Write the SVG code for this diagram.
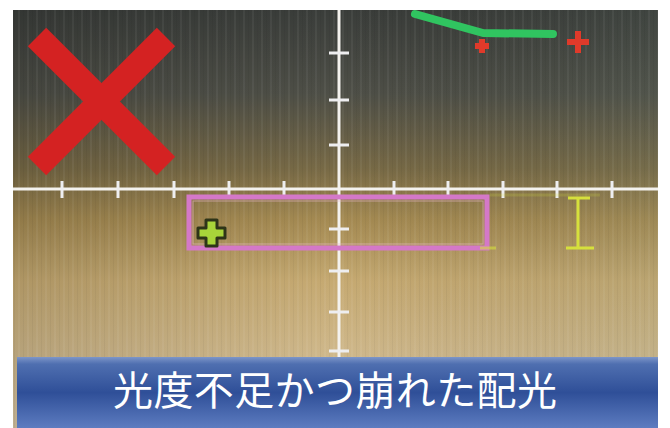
<svg xmlns="http://www.w3.org/2000/svg" width="670" height="428" viewBox="0 0 670 428">
<defs>
<linearGradient id="bg" x1="0" y1="0" x2="0" y2="1">
<stop offset="0" stop-color="#3a3d3a"/>
<stop offset="0.2" stop-color="#4e4f47"/>
<stop offset="0.38" stop-color="#786a46"/>
<stop offset="0.5" stop-color="#a48a52"/>
<stop offset="0.65" stop-color="#c6aa72"/>
<stop offset="1" stop-color="#d8c6a4"/>
</linearGradient>
<linearGradient id="side" x1="0" y1="0" x2="1" y2="0">
<stop offset="0" stop-color="#000" stop-opacity="0.12"/>
<stop offset="0.5" stop-color="#000" stop-opacity="0"/>
<stop offset="1" stop-color="#6a8070" stop-opacity="0.12"/>
</linearGradient>
<linearGradient id="band" x1="0" y1="0" x2="0" y2="1">
<stop offset="0" stop-color="#7d96c8"/>
<stop offset="0.1" stop-color="#4f6fb0"/>
<stop offset="0.5" stop-color="#2f4f98"/>
<stop offset="1" stop-color="#5d7cc0"/>
</linearGradient>
<pattern id="streaks" width="9" height="10" patternUnits="userSpaceOnUse">
<rect x="0" y="0" width="2" height="10" fill="#fff" opacity="0.05"/>
<rect x="5" y="0" width="1" height="10" fill="#000" opacity="0.04"/>
</pattern>
<style>
.axis{stroke:#f4f2ee;stroke-width:3;fill:none}
.tick{stroke:#eeeef0;stroke-width:3;fill:none}
.yel{stroke:#d6e03c;stroke-width:3;fill:none}
.rp{stroke:#e03a2a;stroke-width:6;fill:none}
</style>
</defs>
<rect width="670" height="428" fill="#ffffff"/>
<g id="photo">
<rect x="13" y="10" width="645" height="418" fill="url(#bg)"/>
<rect x="13" y="10" width="645" height="418" fill="url(#side)"/>
<rect x="13" y="10" width="645" height="418" fill="url(#streaks)"/>
</g>
<g id="cross-mark">
<line x1="37" y1="37" x2="166" y2="166" stroke="#d42222" stroke-width="26"/>
<line x1="166" y1="37" x2="37" y2="166" stroke="#d42222" stroke-width="26"/>
</g>
<g id="axes">
<line class="axis" x1="13" y1="189" x2="658" y2="189"/>
<line class="axis" x1="339" y1="10" x2="339" y2="357"/>
<g class="tick">
<line x1="62" y1="181" x2="62" y2="198"/>
<line x1="118" y1="181" x2="118" y2="198"/>
<line x1="174" y1="181" x2="174" y2="198"/>
<line x1="229" y1="181" x2="229" y2="198"/>
<line x1="284" y1="181" x2="284" y2="198"/>
<line x1="394" y1="181" x2="394" y2="198"/>
<line x1="448" y1="181" x2="448" y2="198"/>
<line x1="503" y1="181" x2="503" y2="198"/>
<line x1="557" y1="181" x2="557" y2="198"/>
<line x1="612" y1="181" x2="612" y2="198"/>
<line x1="329" y1="53" x2="349" y2="53"/>
<line x1="329" y1="100" x2="349" y2="100"/>
<line x1="329" y1="145" x2="349" y2="145"/>
<line x1="329" y1="229" x2="349" y2="229"/>
<line x1="329" y1="271" x2="349" y2="271"/>
<line x1="329" y1="312" x2="349" y2="312"/>
<line x1="329" y1="351" x2="349" y2="351"/>
</g>
</g>
<g id="target-box">
<rect x="189" y="197" width="298" height="51" fill="none" stroke="#d478c8" stroke-width="5"/>
<rect x="193" y="201" width="290" height="43" fill="none" stroke="#e8b8c8" stroke-width="1" opacity="0.6"/>
</g>
<g id="green-plus">
<path d="M206,220 h11 v8 h8 v10 h-8 v8 h-11 v-8 h-8 v-10 h8 z" fill="#a8d43a" stroke="#2e3418" stroke-width="3" stroke-linejoin="round"/>
</g>
<g id="yellow-marker">
<line class="yel" x1="578" y1="198" x2="578" y2="248"/>
<line class="yel" x1="568" y1="198" x2="590" y2="198"/>
<line class="yel" x1="566" y1="248" x2="594" y2="248"/>
<line class="yel" x1="480" y1="248" x2="496" y2="248" opacity="0.6"/>
<line class="yel" x1="490" y1="195" x2="600" y2="195" opacity="0.2"/>
</g>
<g id="green-line">
<polyline points="415,14 483,33 553,34" fill="none" stroke="#30c460" stroke-width="8" stroke-linecap="round" stroke-linejoin="round"/>
</g>
<g id="red-plus-marks">
<path class="rp" d="M475,46 h14 M482,39 v14"/>
<path class="rp" d="M567,42 h22 M578,31 v22" stroke-width="7"/>
</g>
<g id="caption">
<rect x="17" y="357" width="641" height="71" fill="url(#band)"/>
<text x="335" y="405" font-family="'Noto Sans CJK JP', 'Noto Sans CJK SC', sans-serif" font-size="40" fill="#ffffff" text-anchor="middle" textLength="444">光度不足かつ崩れた配光</text>
</g>
</svg>
